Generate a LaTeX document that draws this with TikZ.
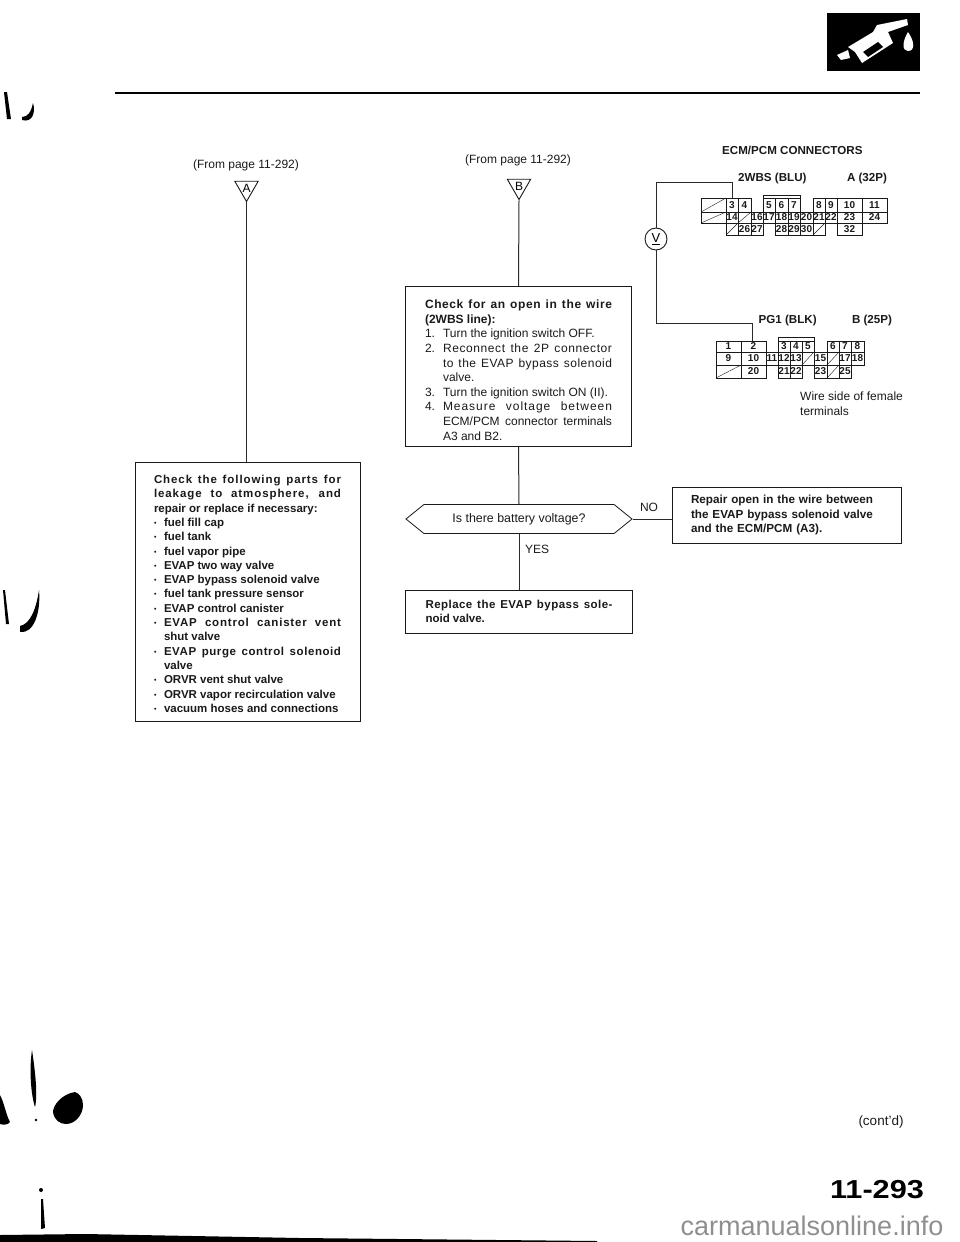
\documentclass[tikz,border=0pt]{standalone}
\usepackage{fontspec}
\setmainfont{Liberation Sans}
\usetikzlibrary{positioning, shapes.geometric, shapes.symbols}
\definecolor{inkblack}{HTML}{1A1A1A}
\definecolor{wiregray}{HTML}{2A2A2A}
\definecolor{markgray}{HTML}{8F8F8F}
\tikzset{
  flow/.style={draw=wiregray, line width=1pt},
  stepbox/.style={draw=inkblack, line width=1pt, fill=white, inner sep=0pt, align=justify,
                  font=\fontsize{12}{14.6}\selectfont, text=inkblack},
  askbox/.style={signal, signal to=west and east, signal pointer angle=78, draw=inkblack,
                 line width=0.8pt, fill=white, inner sep=0pt, font=\fontsize{12.4}{14}\selectfont,
                 minimum width=226, minimum height=29, text=inkblack},
  tagmark/.style={regular polygon, regular polygon sides=3, shape border rotate=180, draw=inkblack,
                  line width=0.9pt, fill=white, inner sep=0pt, minimum size=27,
                  font=\fontsize{12}{12}\selectfont},
  meter/.style={circle, draw=inkblack, line width=0.9pt, fill=white, minimum size=22, inner sep=0pt,
                font=\fontsize{13}{13}\selectfont},
  pagenote/.style={font=\fontsize{12}{15}\selectfont, text=inkblack, inner sep=0pt},
  conntitle/.style={font=\fontsize{11.6}{13}\selectfont\bfseries, text=inkblack, inner sep=0pt},
  pin/.style={font=\fontsize{10}{10}\selectfont\bfseries, text=inkblack, inner sep=0pt},
  cell/.style={draw=inkblack, line width=0.8pt},
  blank/.style={draw=inkblack, line width=0.4pt},
  inkmark/.style={fill=black, draw=none},
}
\newcommand{\partline}{\par\hangindent=10pt\hangafter=1\makebox[10pt][l]{\raisebox{1pt}{\scalebox{0.6}{•}}}}
\newcommand{\stepline}[1]{\par\hangindent=18pt\hangafter=1\makebox[18pt][l]{#1}}
\newcommand{\spread}[2]{{\addfontfeature{LetterSpace=#1}#2}}

\begin{document}
\begin{tikzpicture}[x=1pt, y=-1pt]
\useasboundingbox (0,0) rectangle (960,1242);

% ---- page header ----
\fill[inkmark] (827,13) rectangle (920,71);
\fill[white] (837,55) -- (848,50) -- (850,58) -- (841,60) -- cycle;
\fill[white] (848,47) -- (873,32) -- (877,25) -- (907,19) -- (908,25) -- (888,32) -- (893,43) -- (862,63) -- (855,52) -- cycle;
\fill[inkmark] (863,52) -- (878,42) -- (883,47) -- (868,57) -- cycle;
\fill[white] (908,32) .. controls (902,42) and (902,51) .. (908,51) .. controls (915,51) and (915,42) .. (908,32) -- cycle;
\draw[line width=1.5pt] (115,93) -- (920,93);

% ---- left branch ----
\node[pagenote] (fromA) at (246,165) {(From page 11-292)};
\node[tagmark] (tagA) at (246.5,188) {A};
\node[stepbox, text width=187, minimum width=225, minimum height=259,
      font=\fontsize{11.5}{14.3}\selectfont\bfseries] (parts) at (247.5,591.5) {%
  \rule{0pt}{13pt}\spread{8}{Check the following parts for}\linebreak
  \spread{8}{leakage to atmosphere, and}\linebreak
  \mbox{repair or replace if necessary:}
  \partline fuel fill cap
  \partline fuel tank
  \partline fuel vapor pipe
  \partline EVAP two way valve
  \partline EVAP bypass solenoid valve
  \partline fuel tank pressure sensor
  \partline EVAP control canister
  \partline \spread{7}{EVAP control canister vent}\linebreak shut valve
  \partline \spread{5}{EVAP purge control solenoid}\linebreak valve
  \partline ORVR vent shut valve
  \partline ORVR vapor recirculation valve
  \partline vacuum hoses and connections\par};
\draw[flow] (tagA.corner 1) -- (tagA.corner 1 |- parts.north);

% ---- middle branch ----
\node[pagenote] (fromB) at (518,160) {(From page 11-292)};
\node[tagmark] (tagB) at (519,186) {B};
\node[stepbox, text width=187, minimum width=226, minimum height=160] (check) at (518.5,366.5) {%
  \rule{0pt}{16pt}\textbf{\spread{5}{Check for an open in the wire}\linebreak
  (2WBS line):}
  \stepline{1.}Turn the ignition switch OFF.
  \stepline{2.}\spread{5}{Reconnect the 2P connector}\linebreak \spread{4}{to the EVAP bypass solenoid}\linebreak valve.
  \stepline{3.}Turn the ignition switch ON (II).
  \stepline{4.}\spread{8}{Measure voltage between}\linebreak ECM/PCM connector terminals\linebreak A3 and B2.\par};
\node[askbox] (ask) at (519,519) {Is there battery voltage?};
\node[stepbox, text width=187, minimum width=227, minimum height=43,
      font=\fontsize{11.5}{14.6}\selectfont\bfseries] (replace) at (519,611.5) {%
  \spread{4}{Replace the EVAP bypass sole-}\linebreak noid valve.\par};
\node[stepbox, text width=191, minimum width=229, minimum height=56, align=left,
      font=\fontsize{11.7}{14.8}\selectfont\bfseries] (repair) at (786.5,515) {%
  Repair open in the wire between\\the EVAP bypass solenoid valve\\and the ECM/PCM (A3).};
\node[pagenote] (nolabel) at (649,507) {NO};
\node[pagenote] (yeslabel) at (537,549) {YES};
\draw[flow] (tagB.corner 1) -- (check.north);
\draw[flow] (check.south) -- (ask.north);
\draw[flow] (ask.south) -- (replace.north);
\draw[flow] (ask.east) -- (repair.west |- ask.east);

% ---- connector A ----
\node[conntitle, anchor=west] (ecmtitle) at (722,150) {ECM/PCM CONNECTORS};
\node[conntitle, anchor=west] (wbs) at (738,178) {2WBS (BLU)};
\node[conntitle] (titleA) at (867,178) {A (32P)};
\foreach \xa/\xb/\ya/\yb/\lab in {
  726/738/198/212/3, 738/751/198/212/4, 763/775/198/212/5, 775/788/198/212/6, 788/800/198/212/7,
  813/825/198/212/8, 825/837/198/212/9, 837/862/198/212/10, 862/887/198/212/11,
  726/738/212/223/14, 751/763/212/223/16, 763/775/212/223/17, 775/788/212/223/18, 788/800/212/223/19,
  800/813/212/223/20, 813/825/212/223/21, 825/837/212/223/22, 837/862/212/223/23, 862/887/212/223/24,
  738/751/223/235/26, 751/763/223/235/27, 775/788/223/235/28, 788/800/223/235/29, 800/813/223/235/30,
  837/862/223/235/32}
  \path[cell] (\xa,\ya) rectangle (\xb,\yb) node[pin, midway] (a\lab) {\lab};
\foreach \xa/\xb/\ya/\yb in {
  701/726/198/212, 701/726/212/223, 738/751/212/223, 726/738/223/235, 813/825/223/235}
{
  \draw[cell] (\xa,\ya) rectangle (\xb,\yb);
  \draw[blank] (\xa,\yb) -- (\xb,\ya);
}
\draw[cell] (763,198) -- (763,195) -- (800,195) -- (800,198);

% ---- connector B ----
\node[conntitle, anchor=west] (pgone) at (758.5,320) {PG1 (BLK)};
\node[conntitle] (titleB) at (872,320) {B (25P)};
\foreach \xa/\xb/\ya/\yb/\lab in {
  716/741/341/352/1, 741/766/341/352/2, 778/790/341/352/3, 790/802/341/352/4, 802/814/341/352/5,
  827/839/341/352/6, 839/851/341/352/7, 851/864/341/352/8,
  716/741/352/365/9, 741/766/352/365/10, 766/778/352/365/11, 778/790/352/365/12, 790/802/352/365/13,
  814/827/352/365/15, 839/851/352/365/17, 851/864/352/365/18,
  741/766/365/378/20, 778/790/365/378/21, 790/802/365/378/22, 814/827/365/378/23, 839/851/365/378/25}
  \path[cell] (\xa,\ya) rectangle (\xb,\yb) node[pin, midway] (b\lab) {\lab};
\foreach \xa/\xb/\ya/\yb in {
  802/814/352/365, 827/839/352/365, 716/741/365/378, 827/839/365/378}
{
  \draw[cell] (\xa,\ya) rectangle (\xb,\yb);
  \draw[blank] (\xa,\yb) -- (\xb,\ya);
}
\draw[cell] (778,341) -- (778,337) -- (814,337) -- (814,341);
\node[pagenote, align=left, anchor=north west] (wireside) at (800,392) {Wire side of female\\terminals};

% ---- test wires ----
\node[meter] (volt) at (656,239) {\underline{V}};
\coordinate (wbscorner) at (656,182);
\coordinate (pgcorner) at (656,323);
\coordinate (atop) at (732,198);
\coordinate (btop) at (752,341);
\draw[flow] (atop) -- (atop |- wbscorner) -- (wbscorner) -- (volt.north);
\draw[flow] (volt.south) -- (pgcorner) -- (pgcorner -| btop) -- (btop);

% ---- page footer ----
\node[pagenote, font=\fontsize{13.5}{15}\selectfont] (contd) at (881,1122) {(cont'd)};
\node[font=\fontsize{26}{30}\selectfont\bfseries, inner sep=0pt, xscale=1.18] (pagenum) at (877,1190) {11-293};
\node[font=\fontsize{27}{30}\selectfont, text=markgray, inner sep=0pt] (source) at (812,1226) {carmanualsonline.info};

% ---- scan marks ----
\fill[inkmark] (4,92) -- (7,92) -- (11,119) -- (7,119) -- cycle;
\fill[inkmark] (22,117) .. controls (28,117) and (31,112) .. (33,103) .. controls (36,113) and (32,123) .. (22,120) -- cycle;
\fill[inkmark] (3,590) -- (5,590) -- (9,624) -- (6,624) -- cycle;
\fill[inkmark] (20,626) .. controls (30,624) and (36,610) .. (39,590) .. controls (41,612) and (34,634) .. (20,632) -- cycle;
\fill[inkmark] (0,1095) .. controls (4,1102) and (6,1115) .. (10,1122) .. controls (8,1125) and (3,1125) .. (0,1124) -- cycle;
\fill[inkmark] (32,1050) .. controls (29,1070) and (31,1095) .. (35,1107) .. controls (38,1095) and (35,1070) .. (32,1050) -- cycle;
\fill[inkmark] (36,1120) circle (1.3);
\fill[inkmark] (75,1092) .. controls (62,1094) and (53,1105) .. (53,1112) .. controls (54,1120) and (60,1124) .. (66,1124) .. controls (75,1124) and (83,1115) .. (83,1105) .. controls (83,1098) and (79,1093) .. (75,1092) -- cycle;
\fill[inkmark] (41,1190) circle (2);
\fill[inkmark] (41,1199) -- (43,1199) -- (45,1228) -- (41,1229) -- cycle;
\fill[inkmark] (0,1235) -- (85,1234) -- (300,1238) -- (597,1241) -- (597,1242) -- (0,1242) -- cycle;

\end{tikzpicture}
\end{document}
